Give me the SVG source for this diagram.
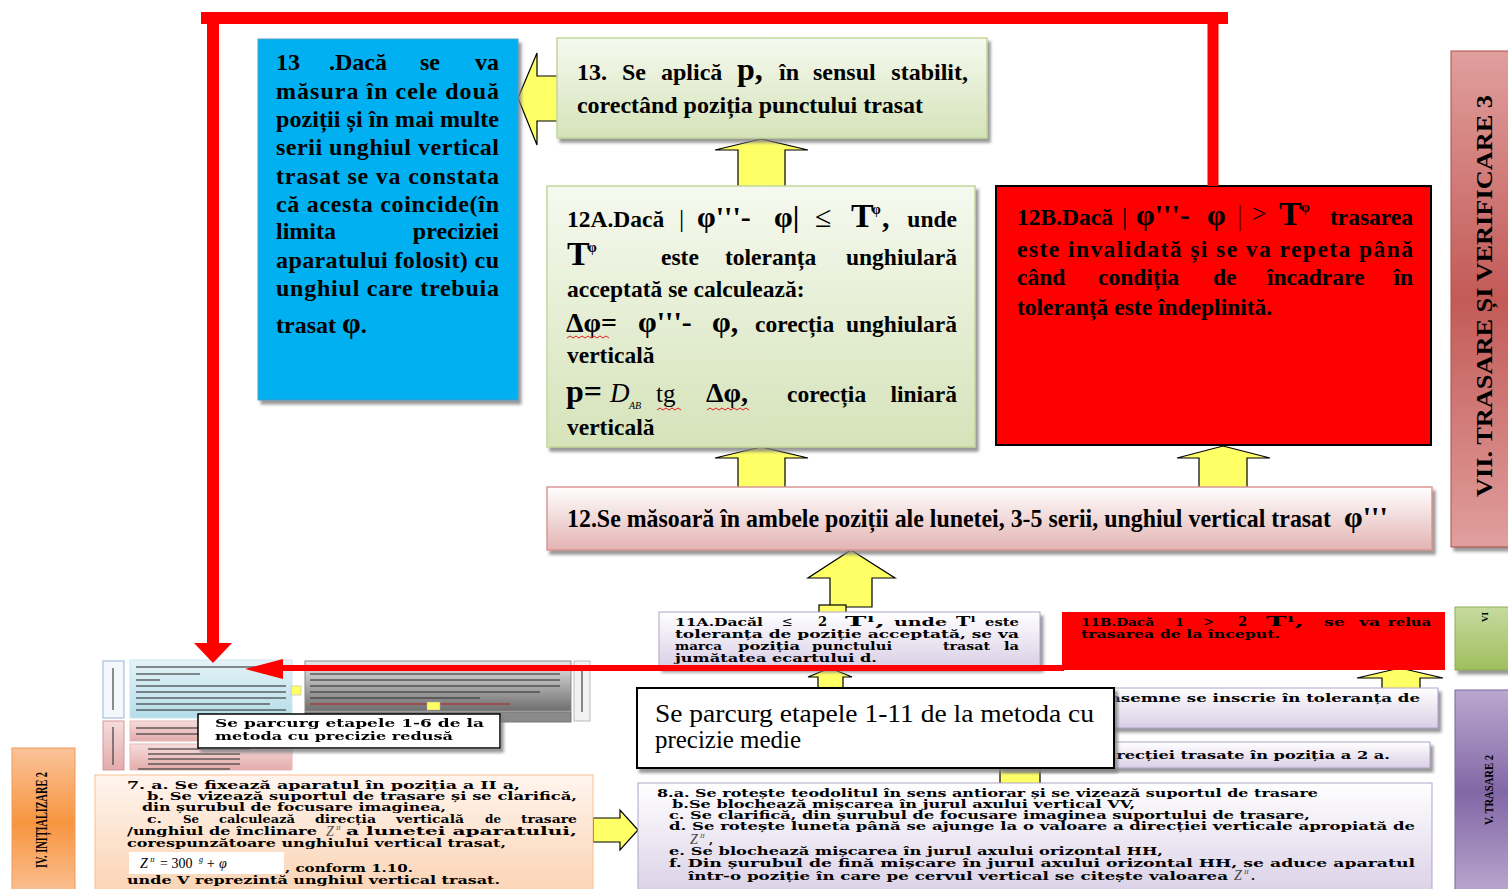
<svg xmlns="http://www.w3.org/2000/svg" width="1508" height="889" viewBox="0 0 1508 889">
  <defs>
    <style>
      .t { font-family: "Liberation Serif", "Times New Roman", serif; font-weight: bold; fill: #000; }
      .d { font-family: "DejaVu Serif", "Liberation Serif", serif; font-weight: bold; fill: #000; font-size: 11.5px; }
      .n { font-weight: normal; }
      .i { font-style: italic; font-weight: normal; }
      .f24 { font-size: 24px; }
      .f235 { font-size: 23.5px; }
      .yarrow { fill: #ffff66; stroke: #000; stroke-width: 1.2; stroke-linejoin: miter; }
      .red { stroke: #ff0000; fill: none; }
      .squig { stroke: #e02020; stroke-width: 1; fill: none; }
      .blur-line { stroke: #333; stroke-width: 2; opacity: 0.55; }
    </style>
    <filter id="sh" x="-5%" y="-5%" width="115%" height="125%">
      <feDropShadow dx="3" dy="4" stdDeviation="1.5" flood-color="#7f7f7f" flood-opacity="0.8"/>
    </filter>
    <filter id="soft" x="-5%" y="-5%" width="110%" height="110%">
      <feGaussianBlur stdDeviation="0.7"/>
    </filter>
    <linearGradient id="gGreen" x1="0" y1="0" x2="0" y2="1">
      <stop offset="0" stop-color="#f6f9ef"/>
      <stop offset="1" stop-color="#d5e3b9"/>
    </linearGradient>
    <linearGradient id="gPink" x1="0" y1="0" x2="0" y2="1">
      <stop offset="0" stop-color="#ffffff"/>
      <stop offset="1" stop-color="#e3b3b2"/>
    </linearGradient>
    <linearGradient id="gLav" x1="0" y1="0" x2="0" y2="1">
      <stop offset="0" stop-color="#ffffff"/>
      <stop offset="1" stop-color="#d9cfe6"/>
    </linearGradient>
    <linearGradient id="gPeach" x1="0" y1="0" x2="0" y2="1">
      <stop offset="0" stop-color="#fff5ee"/>
      <stop offset="1" stop-color="#fbd3b3"/>
    </linearGradient>
    <linearGradient id="gVII" x1="0" y1="0" x2="0" y2="1">
      <stop offset="0" stop-color="#e09f9d"/>
      <stop offset="0.5" stop-color="#c35a57"/>
      <stop offset="1" stop-color="#e09f9d"/>
    </linearGradient>
    <linearGradient id="gV" x1="0" y1="0" x2="0" y2="1">
      <stop offset="0" stop-color="#b9a8cf"/>
      <stop offset="0.5" stop-color="#8267a6"/>
      <stop offset="1" stop-color="#b9a8cf"/>
    </linearGradient>
    <linearGradient id="gVI" x1="0" y1="0" x2="0" y2="1">
      <stop offset="0" stop-color="#c6da9e"/>
      <stop offset="1" stop-color="#9fbe5e"/>
    </linearGradient>
    <linearGradient id="gIV" x1="0" y1="0" x2="0" y2="1">
      <stop offset="0" stop-color="#fbc39a"/>
      <stop offset="0.5" stop-color="#f7953f"/>
      <stop offset="1" stop-color="#fbc39a"/>
    </linearGradient>
    <linearGradient id="gGray" x1="0" y1="0" x2="0" y2="1">
      <stop offset="0" stop-color="#e6e6e6"/>
      <stop offset="1" stop-color="#6e6e6e"/>
    </linearGradient>
    <linearGradient id="gLblue" x1="0" y1="0" x2="0" y2="1">
      <stop offset="0" stop-color="#e4f3f8"/>
      <stop offset="1" stop-color="#b5dde8"/>
    </linearGradient>
    <linearGradient id="gLpink" x1="0" y1="0" x2="0" y2="1">
      <stop offset="0" stop-color="#f6dcdc"/>
      <stop offset="1" stop-color="#e3abab"/>
    </linearGradient>
  </defs>

  <rect width="1508" height="889" fill="#ffffff"/>

  <!-- block arrows between steps (drawn under the boxes) -->
  <g id="connectors">
    <polygon class="yarrow" points="518,98 537,53 537,76 566,76 566,121 537,121 537,145"/>
    <polygon class="yarrow" points="761,139 808,150 785,150 785,190 738,190 738,150 715,150"/>
    <polygon class="yarrow" points="761,447 808,458 785,458 785,490 738,490 738,458 715,458"/>
    <polygon class="yarrow" points="1223,446 1270,458 1247,458 1247,490 1199,490 1199,458 1177,458"/>
    <polygon class="yarrow" points="851,550 895,578 872,578 872,607 830,607 830,578 808,578"/>
    <rect class="yarrow" x="819" y="605" width="27" height="8"/>
    <polygon class="yarrow" points="830,668 852,677 843,677 843,692 818,692 818,677 808,677"/>
    <polygon class="yarrow" points="1400,668 1443,678 1420,678 1420,692 1382,692 1382,678 1357,678"/>
    <polygon class="yarrow" points="1020,752 1045,765 1040,765 1040,787 1000,787 1000,765 995,765"/>
    <polygon class="yarrow" points="638,830 620,810 620,818 593,818 593,842 620,842 620,850"/>
  </g>

  <!-- side section labels -->
  <g id="label-vii">
    <rect x="1451" y="51" width="60" height="496" fill="url(#gVII)" stroke="#b04a47" stroke-width="1" filter="url(#sh)"/>
    <text class="t" font-size="24" transform="translate(1492,497) rotate(-90)" textLength="402" lengthAdjust="spacingAndGlyphs">VII. TRASARE ȘI VERIFICARE 3</text>
  </g>
  <g id="label-vi">
    <rect x="1455" y="607" width="56" height="63" fill="url(#gVI)" stroke="#8fae52" stroke-width="1" filter="url(#sh)"/>
    <text class="t" font-size="9" transform="translate(1488,622) rotate(-90)">VI</text>
  </g>
  <g id="label-v">
    <rect x="1455" y="690" width="56" height="205" fill="url(#gV)" stroke="#7a62a0" stroke-width="1"/>
    <text class="t" font-size="13" transform="translate(1493,825) rotate(-90)" textLength="70" lengthAdjust="spacingAndGlyphs">V. TRASARE 2</text>
  </g>
  <g id="label-iv">
    <rect x="12" y="748" width="63" height="150" fill="url(#gIV)" stroke="#f29a56" stroke-width="1"/>
    <text class="t" font-size="17" transform="translate(47,868) rotate(-90)" textLength="96" lengthAdjust="spacingAndGlyphs">IV. INIȚIALIZARE 2</text>
  </g>

  <!-- step 13: comparison -->
  <g id="step13-check">
    <rect x="258" y="39" width="260" height="361" fill="#00b0f0" stroke="#4f9fc8" stroke-width="1" filter="url(#sh)"/>
    <g class="t f24">
      <text x="276" y="70">13</text>
      <text x="329" y="70">.Dacă</text>
      <text x="420" y="70">se</text>
      <text x="499" y="70" text-anchor="end">va</text>
      <text x="276" y="99" textLength="223" lengthAdjust="spacing">măsura în cele două</text>
      <text x="276" y="127" textLength="223" lengthAdjust="spacing">poziții și în mai multe</text>
      <text x="276" y="155" textLength="223" lengthAdjust="spacing">serii unghiul vertical</text>
      <text x="276" y="184" textLength="223" lengthAdjust="spacing">trasat se va constata</text>
      <text x="276" y="212" textLength="223" lengthAdjust="spacing">că acesta coincide(în</text>
      <text x="276" y="239">limita</text>
      <text x="499" y="239" text-anchor="end">preciziei</text>
      <text x="276" y="268" textLength="223" lengthAdjust="spacing">aparatului folosit) cu</text>
      <text x="276" y="296" textLength="223" lengthAdjust="spacing">unghiul care trebuia</text>
      <text x="276" y="333">trasat <tspan font-size="30">φ</tspan>.</text>
    </g>
  </g>

  <!-- step 13: correction -->
  <g id="step13-apply">
    <rect x="557" y="38" width="430" height="100" fill="url(#gGreen)" stroke="#c3d69b" stroke-width="1.5" filter="url(#sh)"/>
    <g class="t f24">
      <text x="577" y="80">13.</text>
      <text x="622" y="80">Se</text>
      <text x="661" y="80">aplică</text>
      <text x="737" y="80" font-size="32">p,</text>
      <text x="779" y="80">în</text>
      <text x="813" y="80">sensul</text>
      <text x="968" y="80" text-anchor="end">stabilit,</text>
      <text x="577" y="113" textLength="346" lengthAdjust="spacing">corectând poziția punctului trasat</text>
    </g>
  </g>

  <!-- step 12A -->
  <g id="step12a">
    <rect x="547" y="186" width="428" height="261" fill="url(#gGreen)" stroke="#c3d69b" stroke-width="1.5" filter="url(#sh)"/>
    <g class="t f235">
      <text x="567" y="227">12A.Dacă</text>
      <text x="679" y="227" class="n" font-size="26">|</text>
      <text x="697" y="227" font-size="30">φ'''-</text>
      <text x="774" y="227" font-size="30">φ|</text>
      <text x="815" y="227" class="n" font-size="30">≤</text>
      <text x="851" y="227" font-size="34">T</text>
      <text x="872" y="214" font-size="14">φ</text>
      <text x="882" y="227" font-size="30">,</text>
      <text x="957" y="227" text-anchor="end">unde</text>

      <text x="567" y="265" font-size="34">T</text>
      <text x="588" y="252" font-size="14">φ</text>
      <text x="661" y="265">este</text>
      <text x="725" y="265">toleranța</text>
      <text x="957" y="265" text-anchor="end">unghiulară</text>

      <text x="567" y="297">acceptată se calculează:</text>

      <text x="566" y="332" font-size="28">Δφ=</text>
      <text x="638" y="332" font-size="30">φ'''-</text>
      <text x="712" y="332" font-size="30">φ,</text>
      <text x="755" y="332">corecția</text>
      <text x="957" y="332" text-anchor="end">unghiulară</text>

      <text x="567" y="363">verticală</text>

      <text x="566" y="402" font-size="32">p=</text>
      <text x="610" y="402" class="i" font-size="27">D</text>
      <text x="629" y="409" class="i" font-size="10">AB</text>
      <text x="656" y="402" class="n" font-size="25">tg</text>
      <text x="706" y="402" font-size="28">Δφ,</text>
      <text x="787" y="402">corecția</text>
      <text x="957" y="402" text-anchor="end">liniară</text>

      <text x="567" y="435">verticală</text>
    </g>
    <polyline class="squig" points="567,338 570,336 573,338 576,336 579,338 582,336 585,338 588,336 591,338 594,336 597,338 600,336 603,338 606,336 609,338"/>
    <polyline class="squig" points="657,410 660,408 663,410 666,408 669,410 672,408 675,410 678,408 681,410"/>
    <polyline class="squig" points="707,410 710,408 713,410 716,408 719,410 722,408 725,410 728,408 731,410 734,408 737,410 740,408 743,410 746,408 749,410"/>
  </g>

  <!-- step 12B -->
  <g id="step12b">
    <rect x="996" y="186" width="435" height="259" fill="#ff0000" stroke="#000" stroke-width="2"/>
    <g class="t f235">
      <text x="1017" y="225">12B.Dacă</text>
      <text x="1122" y="225" class="n" font-size="26">|</text>
      <text x="1136" y="225" font-size="30">φ'''-</text>
      <text x="1207" y="225" font-size="30">φ</text>
      <text x="1237" y="225" class="n" font-size="30" fill="#7a0000">|</text>
      <text x="1252" y="222" class="n" font-size="26">&gt;</text>
      <text x="1279" y="225" font-size="34">T</text>
      <text x="1301" y="212" font-size="14">φ</text>
      <text x="1413" y="225" text-anchor="end">trasarea</text>
      <text x="1017" y="257" textLength="396" lengthAdjust="spacing">este invalidată și se va repeta până</text>
      <text x="1017" y="285">când</text>
      <text x="1098" y="285">condiția</text>
      <text x="1213" y="285">de</text>
      <text x="1267" y="285">încadrare</text>
      <text x="1413" y="285" text-anchor="end">în</text>
      <text x="1017" y="315">toleranță este îndeplinită.</text>
    </g>
  </g>

  <!-- step 12 -->
  <g id="step12">
    <rect x="547" y="487" width="885" height="63" fill="url(#gPink)" stroke="#d99694" stroke-width="1.5" filter="url(#sh)"/>
    <text class="t" transform="translate(567,527) scale(1,1.1)" font-size="22.5" textLength="764" lengthAdjust="spacingAndGlyphs">12.Se măsoară în ambele poziții ale lunetei, 3-5 serii, unghiul vertical trasat</text>
    <text class="t" x="1344" y="527" font-size="30">φ'''</text>
  </g>

  <!-- step 11A -->
  <g id="step11a">
    <rect x="659" y="612" width="381" height="56" fill="url(#gLav)" stroke="#b2a1c7" stroke-width="1" filter="url(#sh)"/>
    <g class="d">
      <text x="675" y="626" textLength="88" lengthAdjust="spacingAndGlyphs">11A.Dacăl</text>
      <text x="782" y="626" class="n" font-size="13">≤</text>
      <text x="818" y="626" font-size="13">2</text>
      <text x="845" y="626" font-size="13" textLength="40" lengthAdjust="spacingAndGlyphs">Tˡ,</text>
      <text x="894" y="626" textLength="53" lengthAdjust="spacingAndGlyphs">unde</text>
      <text x="956" y="626" font-size="13" textLength="20" lengthAdjust="spacingAndGlyphs">Tˡ</text>
      <text x="985" y="626" textLength="34" lengthAdjust="spacingAndGlyphs">este</text>
      <text x="675" y="638" textLength="344" lengthAdjust="spacingAndGlyphs">toleranța de poziție acceptată, se va</text>
      <text x="675" y="650" textLength="47" lengthAdjust="spacingAndGlyphs">marca</text>
      <text x="738" y="650" textLength="62" lengthAdjust="spacingAndGlyphs">poziția</text>
      <text x="812" y="650" textLength="80" lengthAdjust="spacingAndGlyphs">punctului</text>
      <text x="943" y="650" textLength="47" lengthAdjust="spacingAndGlyphs">trasat</text>
      <text x="1004" y="650" textLength="15" lengthAdjust="spacingAndGlyphs">la</text>
      <text x="675" y="662" textLength="202" lengthAdjust="spacingAndGlyphs">jumătatea ecartului d.</text>
    </g>
  </g>

  <!-- step 11B -->
  <g id="step11b">
    <rect x="1062" y="612" width="383" height="58" fill="#ff0000"/>
    <g class="d">
      <text x="1081" y="626" textLength="73" lengthAdjust="spacingAndGlyphs">11B.Dacă</text>
      <text x="1175" y="626" textLength="9" lengthAdjust="spacingAndGlyphs">1</text>
      <text x="1203" y="626" class="n" font-size="13">&gt;</text>
      <text x="1238" y="626" font-size="13">2</text>
      <text x="1266" y="626" font-size="13" textLength="38" lengthAdjust="spacingAndGlyphs">Tˡ,</text>
      <text x="1324" y="626" textLength="21" lengthAdjust="spacingAndGlyphs">se</text>
      <text x="1359" y="626" textLength="21" lengthAdjust="spacingAndGlyphs">va</text>
      <text x="1388" y="626" textLength="43" lengthAdjust="spacingAndGlyphs">relua</text>
      <text x="1081" y="638" textLength="199" lengthAdjust="spacingAndGlyphs">trasarea de la început.</text>
    </g>
  </g>

  <!-- partly hidden boxes behind the medium-precision note -->
  <g id="step10-tolerance">
    <rect x="1000" y="688" width="438" height="40" fill="url(#gLav)" stroke="#b2a1c7" stroke-width="1" filter="url(#sh)"/>
    <text class="d" x="1110" y="702" textLength="310" lengthAdjust="spacingAndGlyphs">asemne se inscrie în toleranța de</text>
  </g>
  <g id="step9-direction">
    <rect x="1000" y="742" width="430" height="26" fill="url(#gLav)" stroke="#b2a1c7" stroke-width="1" filter="url(#sh)"/>
    <text class="d" x="1110" y="759" textLength="280" lengthAdjust="spacingAndGlyphs">irecției trasate în poziția a 2 a.</text>
  </g>

  <!-- note: medium-precision steps -->
  <g id="note-medium">
    <rect x="637" y="688" width="477" height="80" fill="#ffffff" stroke="#000" stroke-width="2" filter="url(#sh)"/>
    <text class="t n" x="655" y="722" font-size="25" textLength="439" lengthAdjust="spacingAndGlyphs">Se parcurg etapele 1-11 de la metoda cu</text>
    <text class="t n" x="655" y="748" font-size="25" textLength="146" lengthAdjust="spacingAndGlyphs">precizie medie</text>
  </g>

  <!-- step 8 -->
  <g id="step8">
    <rect x="638" y="783" width="794" height="115" fill="url(#gLav)" stroke="#b2a1c7" stroke-width="1"/>
    <g class="d">
      <text x="657" y="797" textLength="661" lengthAdjust="spacingAndGlyphs">8.a. Se rotește teodolitul în sens antiorar și se vizează suportul de trasare</text>
      <text x="672" y="808" textLength="463" lengthAdjust="spacingAndGlyphs">b.Se blochează mișcarea în jurul axului vertical VV,</text>
      <text x="669" y="819" textLength="641" lengthAdjust="spacingAndGlyphs">c. Se clarifică, din șurubul de focusare imaginea suportului de trasare,</text>
      <text x="669" y="830" textLength="746" lengthAdjust="spacingAndGlyphs">d. Se rotește luneta până se ajunge la o valoare a direcției verticale apropiată de</text>
      <text x="690" y="844" class="i" font-size="14" fill="#444" font-family="Liberation Serif">Z</text>
      <text x="700" y="838" class="i" font-size="7" fill="#444" font-family="Liberation Serif">II</text>
      <text x="709" y="844">,</text>
      <text x="669" y="855" textLength="494" lengthAdjust="spacingAndGlyphs">e. Se blochează mișcarea în jurul axului orizontal HH,</text>
      <text x="669" y="867" textLength="746" lengthAdjust="spacingAndGlyphs">f. Din șurubul de fină mișcare în jurul axului orizontal HH, se aduce aparatul</text>
      <text x="688" y="880" textLength="540" lengthAdjust="spacingAndGlyphs">într-o poziție în care pe cervul vertical se citește valoarea</text>
      <text x="1234" y="880" class="i" font-size="14" fill="#444" font-family="Liberation Serif">Z</text>
      <text x="1244" y="874" class="i" font-size="7" fill="#444" font-family="Liberation Serif">II</text>
      <text x="1251" y="880">.</text>
    </g>
  </g>

  <!-- step 7 -->
  <g id="step7">
    <rect x="95" y="775" width="498" height="120" fill="url(#gPeach)" stroke="#fac090" stroke-width="1"/>
    <g class="d">
      <text x="127" y="789" textLength="393" lengthAdjust="spacingAndGlyphs">7. a. Se fixează aparatul în poziția a II a,</text>
      <text x="147" y="800" textLength="430" lengthAdjust="spacingAndGlyphs">b. Se vizează suportul de trasare și se clarifică,</text>
      <text x="142" y="811" textLength="304" lengthAdjust="spacingAndGlyphs">din șurubul de focusare imaginea,</text>
      <text x="147" y="823" textLength="15" lengthAdjust="spacingAndGlyphs">c.</text>
      <text x="183" y="823" textLength="16" lengthAdjust="spacingAndGlyphs">Se</text>
      <text x="219" y="823" textLength="76" lengthAdjust="spacingAndGlyphs">calculează</text>
      <text x="315" y="823" textLength="61" lengthAdjust="spacingAndGlyphs">direcția</text>
      <text x="396" y="823" textLength="68" lengthAdjust="spacingAndGlyphs">verticală</text>
      <text x="485" y="823" textLength="16" lengthAdjust="spacingAndGlyphs">de</text>
      <text x="521" y="823" textLength="56" lengthAdjust="spacingAndGlyphs">trasare</text>
      <text x="127" y="835" textLength="190" lengthAdjust="spacingAndGlyphs">/unghiul de înclinare</text>
      <text x="326" y="836" class="i" font-size="14" fill="#555" font-family="Liberation Serif">Z</text>
      <text x="336" y="830" class="i" font-size="7" fill="#555" font-family="Liberation Serif">II</text>
      <text x="346" y="835" textLength="231" lengthAdjust="spacingAndGlyphs">a lunetei aparatului,</text>
      <text x="127" y="847" textLength="379" lengthAdjust="spacingAndGlyphs">corespunzătoare unghiului vertical trasat,</text>
      <text x="285" y="872" textLength="128" lengthAdjust="spacingAndGlyphs">, conform 1.10.</text>
      <text x="127" y="884" textLength="373" lengthAdjust="spacingAndGlyphs">unde V reprezintă unghiul vertical trasat.</text>
    </g>
    <rect x="129" y="852" width="155" height="22" fill="#ffffff"/>
    <text class="t i" x="140" y="868" font-size="14" fill="#555">Z</text>
    <text class="t i" x="150" y="862" font-size="7" fill="#555">II</text>
    <text class="t n" x="160" y="868" font-size="14" fill="#555">= 300</text>
    <text class="t i" x="199" y="862" font-size="8" fill="#555">g</text>
    <text class="t i" x="206" y="868" font-size="14" fill="#555">+ φ</text>
  </g>

  <!-- reduced-precision steps (small overview block) -->
  <g id="overview-reduced" filter="url(#soft)">
    <rect x="103" y="661" width="21" height="57" fill="#f4f8fc" stroke="#95b3d7" stroke-width="1"/>
    <line class="blur-line" x1="113" y1="668" x2="113" y2="710" stroke-width="3"/>
    <rect x="130" y="660" width="162" height="58" fill="url(#gLblue)" stroke="#cde6ef" stroke-width="1"/>
    <line class="blur-line" x1="136" y1="667" x2="286" y2="667"/>
    <line class="blur-line" x1="136" y1="674" x2="200" y2="674"/>
    <line class="blur-line" x1="136" y1="680" x2="160" y2="680"/>
    <line class="blur-line" x1="136" y1="686" x2="286" y2="686"/>
    <line class="blur-line" x1="136" y1="692" x2="286" y2="692"/>
    <line class="blur-line" x1="136" y1="698" x2="286" y2="698"/>
    <line class="blur-line" x1="136" y1="704" x2="270" y2="704"/>
    <line class="blur-line" x1="136" y1="710" x2="286" y2="710"/>
    <rect x="103" y="721" width="21" height="49" fill="url(#gLpink)" stroke="#d99694" stroke-width="1"/>
    <line class="blur-line" x1="113" y1="727" x2="113" y2="765" stroke-width="3"/>
    <rect x="130" y="721" width="162" height="20" fill="url(#gLpink)" stroke="#e6b9b8" stroke-width="1"/>
    <line class="blur-line" x1="136" y1="728" x2="200" y2="728"/>
    <line class="blur-line" x1="136" y1="734" x2="200" y2="734"/>
    <rect x="130" y="744" width="162" height="26" fill="url(#gLpink)" stroke="#e6b9b8" stroke-width="1"/>
    <line class="blur-line" x1="148" y1="749" x2="250" y2="749"/>
    <line class="blur-line" x1="148" y1="754" x2="240" y2="754"/>
    <line class="blur-line" x1="148" y1="759" x2="240" y2="759"/>
    <line class="blur-line" x1="148" y1="764" x2="240" y2="764"/>
    <line class="blur-line" x1="138" y1="769" x2="230" y2="769"/>
    <rect x="305" y="661" width="266" height="50" fill="url(#gGray)" stroke="#888" stroke-width="1"/>
    <line class="blur-line" x1="310" y1="666" x2="520" y2="666"/>
    <line class="blur-line" x1="310" y1="674" x2="560" y2="674"/>
    <line class="blur-line" x1="310" y1="680" x2="560" y2="680"/>
    <line class="blur-line" x1="310" y1="686" x2="560" y2="686"/>
    <line class="blur-line" x1="310" y1="692" x2="540" y2="692"/>
    <line class="blur-line" x1="310" y1="698" x2="480" y2="698"/>
    <line x1="310" y1="704" x2="510" y2="704" stroke="#b03030" stroke-width="2" opacity="0.6"/>
    <rect x="305" y="712" width="266" height="10" fill="#8a8a8a" stroke="#777" stroke-width="1"/>
    <rect x="574" y="661" width="16" height="60" fill="#f2f2f2" stroke="#bbb" stroke-width="1"/>
    <line class="blur-line" x1="582" y1="670" x2="582" y2="712" stroke-width="3"/>
    <rect x="291" y="686" width="10" height="9" fill="#ffff66" stroke="#aaa" stroke-width="0.5"/>
    <rect x="427" y="702" width="13" height="8" fill="#ffff66" stroke="#aaa" stroke-width="0.5"/>
  </g>

  <!-- note: reduced-precision steps -->
  <g id="note-reduced">
    <rect x="198" y="714" width="302" height="34" fill="#ffffff" stroke="#000" stroke-width="1.5" filter="url(#sh)"/>
    <text class="d" x="215" y="727" font-size="12.5" textLength="269" lengthAdjust="spacingAndGlyphs">Se parcurg etapele 1-6 de la</text>
    <text class="d" x="215" y="740" font-size="12.5" textLength="238" lengthAdjust="spacingAndGlyphs">metoda cu precizie redusă</text>
  </g>

  <!-- loop-back connectors -->
  <g id="feedback-connectors">
    <polyline class="red" stroke-width="12" points="201,18 1228,18"/>
    <polyline class="red" stroke-width="12" points="213,12 213,645"/>
    <polygon points="194,643 232,643 213,663" fill="#ff0000"/>
    <polyline class="red" stroke-width="11" points="1213,12 1213,186"/>
    <line class="red" stroke-width="6" x1="1064" y1="668" x2="280" y2="668"/>
    <polygon points="245,669 283,659 283,679" fill="#ff0000"/>
  </g>
</svg>
